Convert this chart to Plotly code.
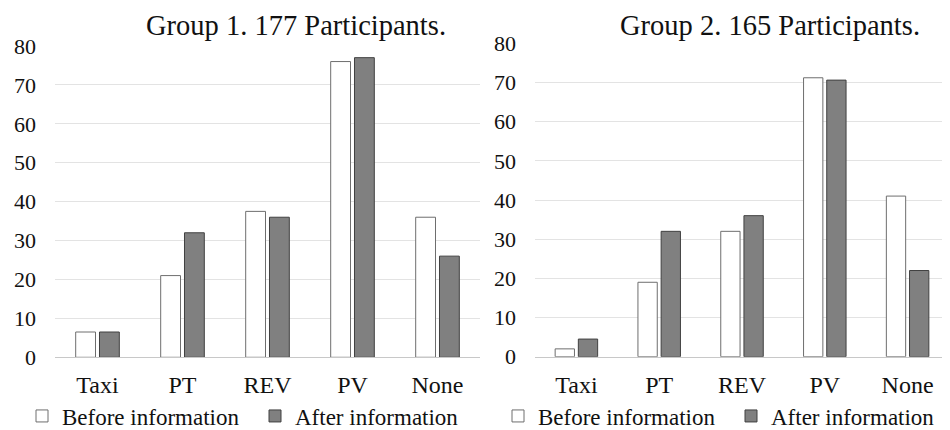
import plotly.graph_objects as go

categories = ["Taxi", "PT", "REV", "PV", "None"]
g1_before = [6.5, 21, 37.5, 76, 36]
g1_after = [6.5, 32, 36, 77, 26]
g2_before = [2, 19, 32, 71.2, 41]
g2_after = [4.5, 32, 36, 70.6, 22]
titles = ["Group 1. 177 Participants.", "Group 2. 165 Participants."]
series_names = ["Before information", "After information"]
y_ticks = [0, 10, 20, 30, 40, 50, 60, 70, 80]

FONT = "Liberation Serif, Times New Roman, serif"
W, H = 950, 430
OFF = 8  # page body margin


def fx(px):
    return (px - OFF) / W


def fy(py):
    return 1 - (py - OFF) / H


fig = go.Figure()

before_style = dict(color="white", line=dict(color="#6e6e6e", width=1))
after_style = dict(color="#808080", line=dict(color="#404040", width=1))

for i, (b, a) in enumerate([(g1_before, g1_after), (g2_before, g2_after)]):
    xa = "x" if i == 0 else "x2"
    ya = "y" if i == 0 else "y2"
    lg = "legend" if i == 0 else "legend2"
    fig.add_trace(go.Bar(x=categories, y=b, name=series_names[0], marker=before_style,
                         xaxis=xa, yaxis=ya, legend=lg))
    fig.add_trace(go.Bar(x=categories, y=a, name=series_names[1], marker=after_style,
                         xaxis=xa, yaxis=ya, legend=lg))

axis_common_y = dict(range=[0, 80], tickvals=y_ticks, showgrid=True, gridcolor="#e3e3e3",
                     gridwidth=1, zeroline=False, showline=False, ticks="",
                     tickfont=dict(family=FONT, size=22, color="#111"), ticklabelstandoff=18,
                     fixedrange=True, automargin=False)
axis_common_x = dict(showgrid=False, showline=True, linecolor="#c8c8c8", linewidth=1,
                     ticks="", tickfont=dict(family=FONT, size=24, color="#111"),
                     ticklabelstandoff=6, automargin=False)

legend_common = dict(orientation="h", xanchor="left", y=fy(416), yanchor="middle",
                     bgcolor="rgba(0,0,0,0)", font=dict(family=FONT, size=23, color="#111"),
                     itemwidth=30, entrywidth=188, traceorder="normal")

fig.update_layout(
    width=W, height=H,
    margin=dict(l=0, r=0, t=0, b=0, autoexpand=False),
    paper_bgcolor="white", plot_bgcolor="white",
    barmode="group", bargap=0.44, bargroupgap=0.167,
    font=dict(family=FONT, size=22, color="#111"),
    xaxis=dict(domain=[fx(55), fx(480)], anchor="y", **axis_common_x),
    yaxis=dict(domain=[fy(357.3), fy(46)], anchor="x", **axis_common_y),
    xaxis2=dict(domain=[fx(535), fx(949)], anchor="y2", **axis_common_x),
    yaxis2=dict(domain=[fy(356.7), fy(43.3)], anchor="x2", **axis_common_y),
    legend=dict(x=fx(22), **legend_common),
    legend2=dict(x=fx(498), **legend_common),
    annotations=[
        dict(text=titles[0], x=fx(296), y=fy(25), xref="paper", yref="paper",
             xanchor="center", yanchor="middle", showarrow=False,
             font=dict(family=FONT, size=28.5, color="#111")),
        dict(text=titles[1], x=fx(770), y=fy(25), xref="paper", yref="paper",
             xanchor="center", yanchor="middle", showarrow=False,
             font=dict(family=FONT, size=28.5, color="#111")),
    ],
)

fig.write_html("out.html")
